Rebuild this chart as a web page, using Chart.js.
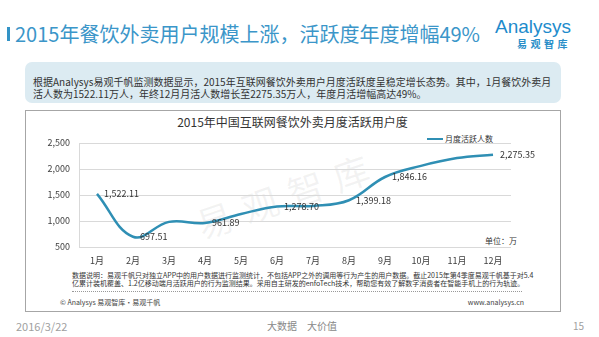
<!DOCTYPE html>
<html>
<head>
<meta charset="utf-8">
<script src="https://cdn.jsdelivr.net/npm/chart.js@4.4.0/dist/chart.umd.min.js"></script>
<style>
    body { margin: 0; width: 599px; height: 337px; background: #fff; position: relative; overflow: hidden;
        font-family: "Noto Sans CJK SC", "Noto Sans", sans-serif; color: #333; }
    .abs { position: absolute; white-space: nowrap; }
    #frame { position: absolute; left: 25px; top: 110px; width: 534px; height: 200px; border: 1px solid #a6a6a6; }
    #summary { position: absolute; left: 25px; top: 62px; width: 536px; height: 41px; border-radius: 7px; background: #dcebf2; }
    #chartBox { position: absolute; left: 25px; top: 110px; width: 536px; height: 160px; }
</style>
</head>
<body>
<div class="abs" style="left:7px;top:27px;width:3px;height:14px;background:#3393c6;"></div>
<div class="abs" style="left:15px;top:22px;font-size:20px;line-height:24px;color:#3b96c9;">2015年餐饮外卖用户规模上涨，活跃度年度增幅49%</div>
<div class="abs" style="left:495px;top:15px;font-size:19px;line-height:24px;color:#1d8bcc;font-family:'Liberation Sans',sans-serif;">Analysys</div>
<div class="abs" style="left:517px;top:38px;font-size:10px;line-height:12px;color:#2a8fc9;font-weight:bold;letter-spacing:3.5px;">易观智库</div>

<div id="summary"></div>
<div class="abs" style="left:33px;top:76px;font-size:10px;line-height:11.7px;color:#333;">根据Analysys易观千帆监测数据显示，2015年互联网餐饮外卖用户月度活跃度呈稳定增长态势。其中，1月餐饮外卖月<br>活人数为1522.11万人，年终12月月活人数增长至2275.35万人，年度月活增幅高达49%。</div>

<div id="frame"></div>
<div class="abs" style="left:288px;top:193px;transform:translate(-50%,-50%) rotate(-19deg);font-size:36px;letter-spacing:12px;color:rgba(120,120,120,0.09);">易观智库</div>
<div class="abs" style="left:25px;top:115px;width:535px;text-align:center;font-size:12px;line-height:14px;color:#333;">2015年中国互联网餐饮外卖月度活跃用户度</div>
<div class="abs" style="left:427px;top:137.5px;width:16px;height:2.5px;background:#2f8fb4;"></div>
<div class="abs" style="left:445px;top:133.5px;font-size:8px;line-height:10px;color:#333;">月度活跃人数</div>
<div class="abs" style="left:485px;top:236px;font-size:8px;line-height:10px;color:#333;">单位：万</div>

<div id="chartBox"><canvas id="myChart" width="536" height="160"></canvas></div>

<div class="abs" style="left:72px;top:272px;font-size:7px;line-height:7.6px;color:#333;">数据说明：易观千帆只对独立APP中的用户数据进行监测统计，不包括APP之外的调用等行为产生的用户数据。截止2015年第4季度易观千帆基于对5.4<br>亿累计装机覆盖、1.2亿移动端月活跃用户的行为监测结果。采用自主研发的enfoTech技术，帮助您有效了解数字消费者在智能手机上的行为轨迹。</div>
<div class="abs" style="left:72px;top:291px;width:450px;border-top:1px dotted #999;"></div>
<div class="abs" style="left:60px;top:298px;font-size:7px;line-height:8px;color:#444;">© Analysys 易观智库·易观千帆</div>
<div class="abs" style="left:424px;top:298px;width:100px;text-align:right;font-size:7px;line-height:8px;color:#444;">www.analysys.cn</div>

<div class="abs" style="left:16px;top:319px;font-size:11px;line-height:14px;color:#a0a0a0;">2016/3/22</div>
<div class="abs" style="left:267px;top:320px;font-size:10px;line-height:12px;color:#888;">大数据　大价值</div>
<div class="abs" style="left:573px;top:320px;font-size:10px;line-height:12px;color:#a0a0a0;">15</div>

<script>
var months = ['1月', '2月', '3月', '4月', '5月', '6月', '7月', '8月', '9月', '10月', '11月', '12月'];
var activeUsers = [1522.11, 697.51, 983, 961.89, 1135, 1278.70, 1290, 1399.18, 1846.16, 2060, 2210, 2275.35];
var labelledPoints = [0, 1, 3, 5, 7, 8, 11];
var yTicks = [500, 1000, 1500, 2000, 2500];

var lineColour = '#2f8fb4';

// Draw the value labels to the right of the chosen points
var pointLabels = {
    id: 'pointLabels',
    afterDatasetsDraw: function (chart) {
        var ctx = chart.ctx;
        var meta = chart.getDatasetMeta(0);
        ctx.save();
        ctx.font = '9px "Noto Sans CJK SC", sans-serif';
        ctx.fillStyle = '#333';
        ctx.textAlign = 'left';
        ctx.textBaseline = 'middle';
        labelledPoints.forEach(function (i) {
            var pt = meta.data[i];
            var text = activeUsers[i].toLocaleString('en-US', { minimumFractionDigits: 2, maximumFractionDigits: 2 });
            ctx.fillText(text, pt.x + 7, pt.y);
        });
        ctx.restore();
    }
};

var chart = new Chart(document.getElementById('myChart'), {
    type: 'line',
    data: {
        labels: months,
        datasets: [{
            label: '月度活跃人数',
            data: activeUsers,
            borderColor: lineColour,
            borderWidth: 2.5,
            tension: 0.4,
            pointRadius: 0,
            fill: false,
            clip: false
        }]
    },
    options: {
        responsive: false,
        animation: false,
        events: [],
        layout: {
            padding: { left: 0, right: 50, top: 33, bottom: 0 }
        },
        plugins: {
            legend: { display: false },
            title: { display: false },
            tooltip: { enabled: false }
        },
        scales: {
            x: {
                offset: true,
                grid: { display: false, drawTicks: false },
                border: { display: false },
                ticks: {
                    padding: 8,
                    color: '#404040',
                    font: { size: 9, family: '"Noto Sans CJK SC", sans-serif' }
                },
                afterFit: function (scale) { scale.height = 23; }
            },
            y: {
                min: 500,
                max: 2500,
                grid: { color: '#d9d9d9', drawTicks: false },
                border: { display: true, color: '#d9d9d9' },
                afterBuildTicks: function (scale) {
                    scale.ticks = yTicks.map(function (v) { return { value: v }; });
                },
                ticks: {
                    padding: 9,
                    color: '#404040',
                    font: { size: 9, family: '"Noto Sans CJK SC", sans-serif' },
                    callback: function (value) {
                        return value.toLocaleString('en-US');
                    }
                },
                afterFit: function (scale) { scale.width = 54; }
            }
        }
    },
    plugins: [pointLabels]
});
</script>
</body>
</html>
